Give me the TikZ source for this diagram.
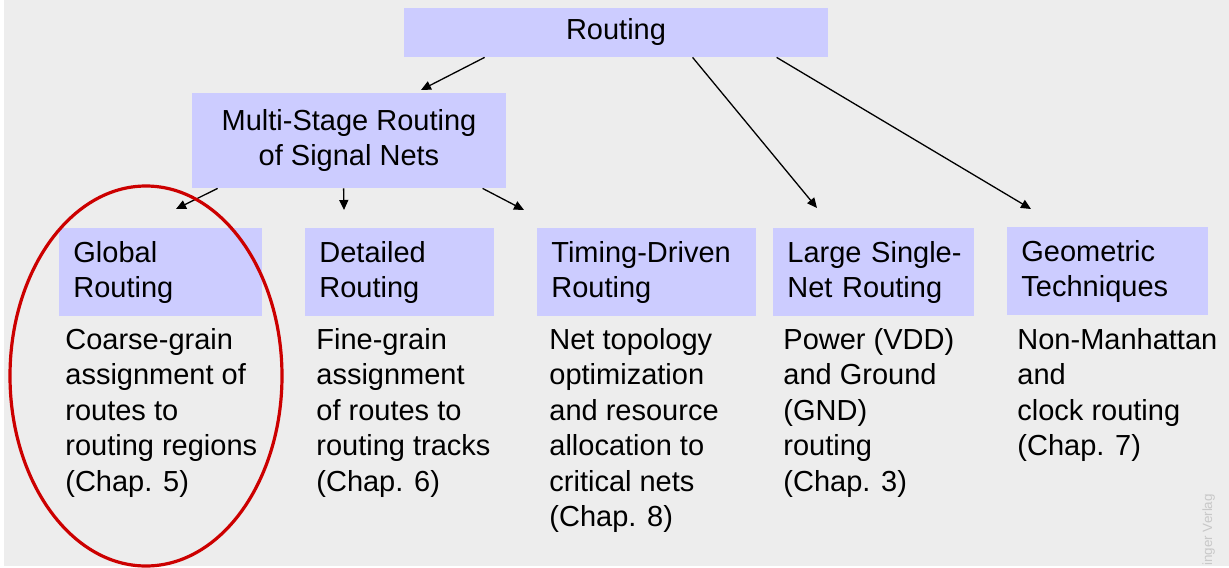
\documentclass[tikz,border=0pt]{standalone}
\usepackage{fontspec}
\setmainfont{Liberation Sans}
\usetikzlibrary{arrows.meta,calc,shapes.geometric}
\definecolor{bgc}{HTML}{EDEDED}
\definecolor{boxc}{HTML}{CCCCFF}
\definecolor{ringc}{HTML}{CC0000}
\definecolor{wmc}{HTML}{C8C8C8}
\newcommand{\dsc}[1]{\begin{tabular}[t]{@{}l@{}}#1\end{tabular}}
\tikzset{
  every node/.style={font=\fontsize{14.5pt}{17.75pt}\selectfont, text=black},
  topbox/.style={fill=boxc, draw=none, inner sep=0pt, align=center},
  lvlbox/.style={fill=boxc, draw=none, minimum height=44pt, inner xsep=7pt, inner ysep=0pt, align=left, anchor=north west},
  desc/.style={inner sep=0pt, anchor=base west},
  arr/.style={line width=0.65pt, -{Triangle[length=5pt,width=4.5pt]}},
  ring/.style={draw=ringc, line width=1.6pt, ellipse, minimum width=136pt, minimum height=190pt, inner sep=0pt},
}
\begin{document}
\begin{tikzpicture}[x=0.5pt,y=-0.5pt]
\useasboundingbox (0,0) rectangle (1229,567);
\fill[bgc] (4,0) rectangle (1229,566);
% top boxes
\node[topbox, minimum width=212pt, minimum height=24.5pt] (routing) at (616,32.5) {Routing};
\node[topbox, minimum width=157pt, minimum height=47.5pt] (multi) at (349,140.5) {Multi-Stage Routing\\of Signal Nets};
% level boxes
\node[lvlbox, minimum width=101.5pt, text width=87.5pt] (global) at (59,228) {Global\\Routing};
\node[lvlbox, minimum width=94.5pt, text width=80.5pt] (detailed) at (305,228) {Detailed\\Routing};
\node[lvlbox, minimum width=109.5pt, text width=95.5pt] (timing) at (537,228) {Timing-Driven\\Routing};
\node[lvlbox, minimum width=100.5pt, text width=86.5pt] (large) at (773,228) {\mbox{Large Single-}\\\mbox{Net Routing}};
\node[lvlbox, minimum width=100.5pt, text width=86.5pt] (geom) at (1007,227) {Geometric\\Techniques};
% descriptions
\node[desc] (dglobal) at (65,349) {\dsc{Coarse-grain\\assignment of\\routes to\\routing regions\\(Chap. 5)}};
\node[desc] (ddetailed) at (316,349) {\dsc{Fine-grain\\assignment\\of routes to\\routing tracks\\(Chap. 6)}};
\node[desc] (dtiming) at (549,349) {\dsc{Net topology\\optimization\\and resource\\allocation to\\critical nets\\(Chap. 8)}};
\node[desc] (dlarge) at (783,349) {\dsc{Power (VDD)\\and Ground\\(GND)\\routing\\(Chap. 3)}};
\node[desc] (dgeom) at (1017,349) {\dsc{Non-Manhattan\\and\\clock routing\\(Chap. 7)}};
% arrow tips
\coordinate (tmulti) at (421,90);
\coordinate (tlarge) at (817,208);
\coordinate (tgeom) at (1031,209);
\coordinate (tglobal) at (176,209);
\coordinate (tdetailed) at (344,210);
\coordinate (ttiming) at (524,210);
\draw[arr] ($(routing.south west)+(81,0)$) -- (tmulti);
\draw[arr] ($(routing.south west)+(289,0)$) -- (tlarge);
\draw[arr] ($(routing.south west)+(373,0)$) -- (tgeom);
\draw[arr] ($(multi.south west)+(26,0)$) -- (tglobal);
\draw[arr] ($(multi.south west)+(152,0)$) -- (tdetailed);
\draw[arr] ($(multi.south west)+(291,0)$) -- (ttiming);
% highlight ring
\node[ring] (hl) at (146,376) {};
% watermark
\node[inner sep=0pt, anchor=base west, rotate=90, text=wmc, font=\fontsize{6.7pt}{8pt}\selectfont] (wm) at (1212,566) {inger Verlag};
\end{tikzpicture}
\end{document}
